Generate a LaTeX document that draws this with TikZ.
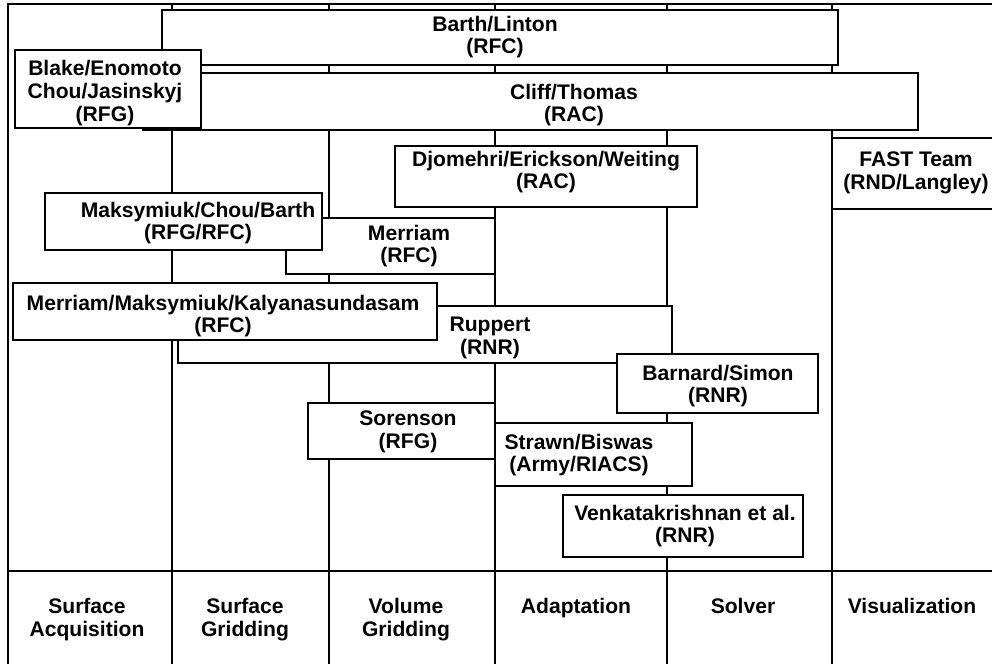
\documentclass[tikz,border=0pt]{standalone}
\usepackage{fontspec}
\setmainfont{Liberation Sans}

\begin{document}
\begin{tikzpicture}[x=0.02cm, y=-0.02cm, line width=1.1pt,
    box/.style={draw, fill=white},
    lbl/.style={font=\fontsize{12}{13}\selectfont\bfseries, align=center, inner sep=0pt}]
    \useasboundingbox (0,0) rectangle (992,664);

    % Frame and column lines
    \draw (992,4) -- (8,4) -- (8,664);
    \draw (8,571) -- (992,571);
    \foreach \x in {172,329,495,667,832}
        \draw (\x,4) -- (\x,664);

    % Column titles
    \node[lbl, anchor=north] (acq) at (87,597) {Surface\\Acquisition};
    \node[lbl, anchor=north] (sgrid) at (245,597) {Surface\\Gridding};
    \node[lbl, anchor=north] (vgrid) at (406,597) {Volume\\Gridding};
    \node[lbl, anchor=north] (adapt) at (576,597) {Adaptation};
    \node[lbl, anchor=north] (solver) at (743,597) {Solver};
    \node[lbl, anchor=north] (vis) at (912,597) {Visualization};

    % Top row
    \draw[box] (162,10) rectangle (838,65);
    \node[lbl] (barth) at (495,37) {Barth/Linton\\(RFC)};
    \draw[box] (143,73) rectangle (918,130);
    \node[lbl] (cliff) at (574,105) {Cliff/Thomas\\(RAC)};
    \draw[box] (15,50) rectangle (201,128);
    \node[lbl] (blake) at (105,93) {Blake/Enomoto\\Chou/Jasinskyj\\(RFG)};

    % Second row
    \draw[box] (395,146) rectangle (697,207);
    \node[lbl] (djomehri) at (546,172) {Djomehri/Erickson/Weiting\\(RAC)};
    \draw[box] (832,138) rectangle (1000,209);
    \node[lbl] (fast) at (916,173) {FAST Team\\(RND/Langley)};
    \draw[box] (286,218) rectangle (495,274);
    \node[lbl] (merriam) at (409,246) {Merriam\\(RFC)};
    \draw[box] (45,193) rectangle (322,250);
    \node[lbl] (maksym) at (198,223) {Maksymiuk/Chou/Barth\\(RFG/RFC)};

    % Middle row
    \draw[box] (178,306) rectangle (672,363);
    \node[lbl] (ruppert) at (490,338) {Ruppert\\(RNR)};
    \draw[box] (13,283) rectangle (437,340);
    \node[lbl] (kalyan) at (223,316) {Merriam/Maksymiuk/Kalyanasundasam\\(RFC)};
    \draw[box] (617,354) rectangle (818,413);
    \node[lbl] (barnard) at (718,386) {Barnard/Simon\\(RNR)};

    % Lower row
    \draw[box] (308,403) rectangle (495,459);
    \node[lbl] (sorenson) at (408,432) {Sorenson\\(RFG)};
    \draw[box] (495,423) rectangle (692,486);
    \node[lbl] (strawn) at (579,455) {Strawn/Biswas\\(Army/RIACS)};
    \draw[box] (563,495) rectangle (803,557);
    \node[lbl] (venkat) at (685,526) {Venkatakrishnan et al.\\(RNR)};
\end{tikzpicture}
\end{document}
